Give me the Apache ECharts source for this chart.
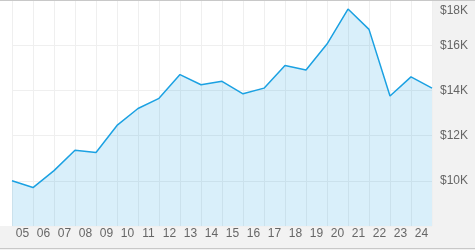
<!DOCTYPE html>
<html>
<head>
<meta charset="utf-8">
<script src="https://cdn.jsdelivr.net/npm/echarts@6/dist/echarts.min.js"></script>
<style>
html,body{margin:0;padding:0;background:#f2f2f2;}
#chart{width:475px;height:250px;}
</style>
</head>
<body>
<div id="chart"></div>
<script>
// Year labels (bands between points)
const yearLabels = ['05','06','07','08','09','10','11','12','13','14','15','16','17','18','19','20','21','22','23','24'];
// Point positions: year boundaries (start of 2005 ... start of 2025)
const pointKeys = ['2005','2006','2007','2008','2009','2010','2011','2012','2013','2014','2015','2016','2017','2018','2019','2020','2021','2022','2023','2024','2025'];
// Portfolio value in dollars at each point
const values = [10000, 9700, 10450, 11350, 11250, 12450, 13200, 13650, 14700, 14250, 14400, 13850, 14100, 15100, 14900, 16050, 17600, 16700, 13750, 14600, 14100];
// Y axis scale
const yMin = 8000, yMax = 18000, yStep = 2000;

const chart = echarts.init(document.getElementById('chart'), null, {renderer: 'canvas'});
const font = 'Liberation Sans, Arial, sans-serif';
chart.setOption({
  animation: false,
  backgroundColor: '#f2f2f2',
  graphic: [
    {type: 'rect', z: -10, silent: true, shape: {x: 0, y: 0, width: 432, height: 226}, style: {fill: '#ffffff'}},
    {type: 'line', z: 100, silent: true, shape: {x1: 0, y1: 0.5, x2: 475, y2: 0.5}, style: {stroke: '#c8c8c8', lineWidth: 1}},
    {type: 'line', z: 100, silent: true, shape: {x1: 0, y1: 248.5, x2: 475, y2: 248.5}, style: {stroke: '#c8c8c8', lineWidth: 1}}
  ],
  grid: {left: 12, right: 43, top: -1, bottom: 24, containLabel: false},
  xAxis: [
    {
      type: 'category', data: yearLabels, boundaryGap: true,
      axisLine: {show: false}, axisTick: {show: false},
      splitLine: {show: true, lineStyle: {color: '#efefef', width: 1}},
      axisLabel: {color: '#666', fontSize: 12, fontFamily: font, margin: 2, interval: 0}
    },
    {
      type: 'category', data: pointKeys, boundaryGap: false, show: false
    }
  ],
  yAxis: {
    type: 'value', position: 'right', min: yMin, max: yMax, interval: yStep,
    axisLine: {show: false}, axisTick: {show: false},
    splitLine: {show: true, lineStyle: {color: '#efefef', width: 1}},
    axisLabel: {
      color: '#666', fontSize: 12, fontFamily: font, margin: 8, showMinLabel: false,
      formatter: function (v) {
        const t = '$' + (v / 1000) + 'K';
        return v === yMax ? '{top|' + t + '}' : t;
      },
      rich: {top: {color: '#666', fontSize: 12, fontFamily: font, padding: [22, 0, 0, 0]}}
    }
  },
  series: [{
    type: 'line', xAxisIndex: 1, data: values, symbol: 'none',
    lineStyle: {color: '#1ba1e2', width: 1.5},
    areaStyle: {color: '#1ba1e2', opacity: 0.17}
  }]
});
</script>
</body>
</html>
